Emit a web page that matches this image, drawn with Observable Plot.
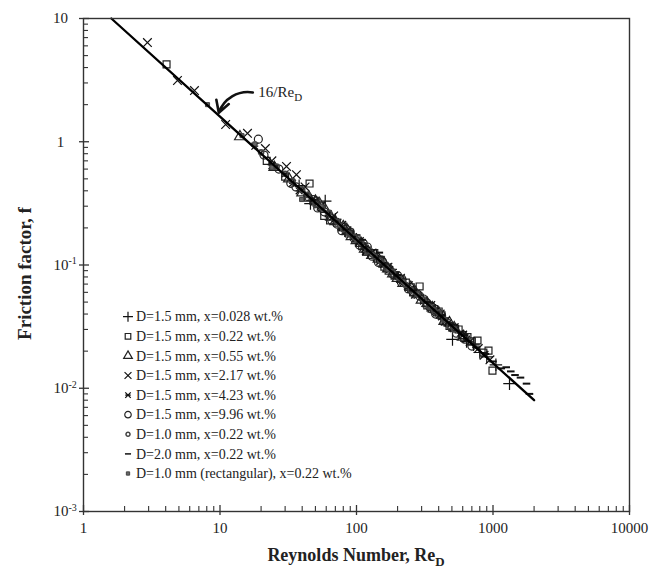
<!DOCTYPE html>
<html><head><meta charset="utf-8">
<script src="https://cdn.jsdelivr.net/npm/d3@7"></script>
<script src="https://cdn.jsdelivr.net/npm/@observablehq/plot@0.6"></script>
<style>
html,body{margin:0;padding:0;background:#fff;}
#chart svg{display:block;}
</style></head><body><div id="chart"></div>
<script>
// ---------- data ----------
const seriesLabels = [
  "D=1.5 mm, x=0.028 wt.%",
  "D=1.5 mm, x=0.22 wt.%",
  "D=1.5 mm, x=0.55 wt.%",
  "D=1.5 mm, x=2.17 wt.%",
  "D=1.5 mm, x=4.23 wt.%",
  "D=1.5 mm, x=9.96 wt.%",
  "D=1.0 mm, x=0.22 wt.%",
  "D=2.0 mm, x=0.22 wt.%",
  "D=1.0 mm (rectangular), x=0.22 wt.%"
];
const re_plus = [38, 46, 52, 59, 70, 82, 95, 108, 122, 140, 158, 178, 200, 228, 260, 295, 335, 380, 425, 505, 560, 640, 720, 800, 900, 1050, 1321];
const f_plus  = [0.44, 0.315, 0.32, 0.33, 0.235, 0.19, 0.175, 0.148, 0.126, 0.118, 0.098, 0.092, 0.078, 0.071, 0.060, 0.055, 0.046, 0.043, 0.037, 0.0249, 0.029, 0.024, 0.0225, 0.0195, 0.018, 0.0155, 0.0109];
const re_square = [4.06, 22, 30, 45.3, 58, 64, 72, 80, 88, 100, 110, 118, 135, 150, 160, 172, 190, 210, 230, 250, 260, 290, 330, 350, 370, 400, 420, 440, 480, 520, 560, 600, 650, 700, 770, 850, 927, 991];
const f_square  = [4.24, 0.70, 0.52, 0.458, 0.25, 0.23, 0.22, 0.205, 0.18, 0.165, 0.142, 0.128, 0.125, 0.11, 0.097, 0.090, 0.082, 0.077, 0.072, 0.066, 0.060, 0.067, 0.047, 0.046, 0.044, 0.042, 0.039, 0.035, 0.032, 0.031, 0.030, 0.027, 0.026, 0.024, 0.0244, 0.0195, 0.0202, 0.0139];
const re_triangle = [14, 25, 32, 40, 45, 50, 54, 58, 65, 70, 80, 86, 92, 100, 108, 115, 122, 130, 145, 160, 170, 185, 200, 220, 250, 270, 300, 330, 360, 400, 440, 480, 520, 600];
const f_triangle  = [1.1, 0.62, 0.50, 0.385, 0.35, 0.33, 0.31, 0.29, 0.245, 0.225, 0.205, 0.19, 0.17, 0.158, 0.15, 0.135, 0.128, 0.12, 0.112, 0.102, 0.093, 0.085, 0.078, 0.071, 0.066, 0.060, 0.052, 0.049, 0.045, 0.041, 0.035, 0.034, 0.031, 0.026];
const re_times = [2.94, 4.88, 6.5, 11, 15.9, 21.5, 24, 30.7, 36.3, 42, 50, 55, 68, 78, 85, 105, 118, 130, 150, 170, 210, 240, 270, 350, 410, 450, 520, 600, 680, 780, 860, 950];
const f_times  = [6.38, 3.14, 2.6, 1.38, 1.17, 0.88, 0.70, 0.63, 0.54, 0.43, 0.33, 0.30, 0.25, 0.21, 0.19, 0.155, 0.13, 0.125, 0.108, 0.096, 0.078, 0.068, 0.058, 0.047, 0.040, 0.035, 0.031, 0.027, 0.024, 0.021, 0.0185, 0.017];
const re_star = [18, 24, 30, 34, 38, 43, 48, 55, 62, 70, 78, 86, 95, 105, 115, 128, 140, 158, 175, 195, 220, 250, 280, 310, 340, 380, 420, 470, 520, 580, 640];
const f_star  = [0.92, 0.64, 0.55, 0.46, 0.40, 0.37, 0.34, 0.29, 0.26, 0.225, 0.20, 0.19, 0.17, 0.155, 0.135, 0.125, 0.115, 0.101, 0.092, 0.083, 0.072, 0.064, 0.057, 0.051, 0.047, 0.042, 0.038, 0.034, 0.031, 0.028, 0.025];
const re_circle = [19.1, 21, 27, 33, 36, 44, 48, 52, 58, 66, 72, 78, 84, 90, 96, 105, 112, 120, 130, 145, 155, 170, 185, 200, 215, 240, 260, 290, 310, 330, 355, 380, 420, 460, 500, 540, 620, 700];
const f_circle  = [1.05, 0.78, 0.60, 0.46, 0.43, 0.36, 0.34, 0.29, 0.27, 0.23, 0.215, 0.19, 0.195, 0.185, 0.165, 0.145, 0.15, 0.14, 0.118, 0.105, 0.107, 0.095, 0.084, 0.082, 0.077, 0.064, 0.060, 0.056, 0.053, 0.049, 0.044, 0.040, 0.039, 0.034, 0.031, 0.028, 0.025, 0.022];
const re_small = [20, 26, 30, 34, 40, 44, 50, 56, 63, 72, 80, 88, 97, 108, 120, 135, 150, 165, 185, 205, 228, 250, 280, 310, 340, 370, 400, 440, 480, 520];
const f_small  = [0.82, 0.63, 0.55, 0.48, 0.41, 0.37, 0.31, 0.29, 0.265, 0.225, 0.195, 0.18, 0.168, 0.152, 0.13, 0.118, 0.108, 0.095, 0.088, 0.079, 0.069, 0.063, 0.058, 0.052, 0.046, 0.043, 0.041, 0.036, 0.032, 0.030];
const re_dash = [110, 147, 200, 260, 330, 420, 500, 620, 750, 880, 1000, 1150, 1250, 1350, 1450, 1590, 1760, 1850];
const f_dash  = [0.16, 0.126, 0.083, 0.062, 0.050, 0.039, 0.033, 0.027, 0.0215, 0.019, 0.0165, 0.0145, 0.0148, 0.0137, 0.0128, 0.0122, 0.0109, 0.0090];
const re_rect = [8.1, 14.5, 18, 24, 39.6, 55, 75, 100, 130, 170, 220, 280, 350];
const f_rect  = [2.0, 1.12, 0.96, 0.62, 0.34, 0.30, 0.21, 0.16, 0.122, 0.092, 0.073, 0.058, 0.046];

// theoretical laminar line 16/Re (end points)
const line_re = [1.6, 2000];
const line_f  = [10, 0.008];

// annotation
const annotLabel = "16/Re_D";
const annotRe = 19.1, annotF = 2.51;
const arrowFrom = {Re: 17.4, f: 2.51};
const arrowTo = {Re: 9.8, f: 1.72};

// ticks
const xTickValues = [1, 10, 100, 1000, 10000];
const xTickLabels = ["1", "10", "100", "1000", "10000"];
const yTickValues = [10, 1, 0.1, 0.01, 0.001];
const yTickLabels = ["10", "1", "10^-1", "10^-2", "10^-3"];
const xTitle = "Reynolds Number, Re_D";
const yTitle = "Friction factor, f";

// ---------- layout ----------
const W = 651, H = 568, mL = 83, mR = 22, mT = 18, mB = 57;
const frameW = W - mL - mR, frameH = H - mT - mB;
const serif = "'Liberation Serif','Times New Roman',Times,serif";

const dashSym = {draw(ctx, size) { const r = Math.sqrt(size / Math.PI) * 1.05; ctx.moveTo(-r, 0); ctx.lineTo(r, 0); }};
const starSym = {draw(ctx, size) { const r = Math.sqrt(size / Math.PI) * 0.85;
  ctx.moveTo(-r, -r); ctx.lineTo(r, r); ctx.moveTo(-r, r); ctx.lineTo(r, -r); ctx.moveTo(-r, 0); ctx.lineTo(r, 0); }};

const rows = (re, f) => re.map((r, i) => ({Re: r, f: f[i]}));
const seriesData = [
  {data: rows(re_plus, f_plus), symbol: d3.symbolPlus, r: 4.1, stroke: "#111", fill: "none", sw: 1.2},
  {data: rows(re_square, f_square), symbol: d3.symbolSquare, r: 3.9, stroke: "#222", fill: "none", sw: 1.2},
  {data: rows(re_triangle, f_triangle), symbol: d3.symbolTriangle, r: 4.0, stroke: "#222", fill: "none", sw: 1.2},
  {data: rows(re_times, f_times), symbol: d3.symbolTimes, r: 4.0, stroke: "#111", fill: "none", sw: 1.2},
  {data: rows(re_star, f_star), symbol: starSym, r: 4.0, stroke: "#111", fill: "none", sw: 1.3},
  {data: rows(re_circle, f_circle), symbol: d3.symbolCircle, r: 4.0, stroke: "#222", fill: "none", sw: 1.2},
  {data: rows(re_small, f_small), symbol: d3.symbolCircle, r: 2.5, stroke: "#444", fill: "none", sw: 1.7},
  {data: rows(re_dash, f_dash), symbol: dashSym, r: 3.6, stroke: "#111", fill: "none", sw: 2},
  {data: rows(re_rect, f_rect), symbol: d3.symbolSquare, r: 2.3, stroke: "#444", fill: "#666", sw: 1}
];

const minorDec = (lo, hi) => { const out = []; for (let e = lo; e < hi; e++) for (let k = 2; k <= 9; k++) out.push(k * Math.pow(10, e)); return out; };
const xMinor = minorDec(0, 4);
const yMinor = minorDec(-3, 1);

const marks = [];
for (const s of seriesData) {
  marks.push(Plot.dot(s.data, {x: "Re", y: "f", symbol: s.symbol, r: s.r, stroke: s.stroke, fill: s.fill, strokeWidth: s.sw}));
}
marks.push(Plot.line(rows(line_re, line_f), {x: "Re", y: "f", stroke: "#000", strokeWidth: 2.3}));
marks.push(Plot.frame({stroke: "#333", strokeWidth: 1.4}));
marks.push(Plot.tickX(xMinor, {x: d => d, insetTop: frameH - 5, stroke: "#333", strokeWidth: 1.1}));
marks.push(Plot.tickX(xTickValues, {x: d => d, insetTop: frameH - 6, insetBottom: -4, stroke: "#333", strokeWidth: 1.3}));
marks.push(Plot.tickY(yMinor, {y: d => d, insetRight: frameW - 5, stroke: "#333", strokeWidth: 1.1}));
marks.push(Plot.tickY(yTickValues, {y: d => d, insetRight: frameW - 6, insetLeft: -4, stroke: "#333", strokeWidth: 1.3}));
marks.push(Plot.text(xTickValues, {x: d => d, frameAnchor: "bottom", dy: 17, text: (d, i) => xTickLabels[i], textAnchor: "middle", lineAnchor: "middle", fontSize: 15, fill: "#222"}));
const yIdxPlain = yTickValues.map((d, i) => i).filter(i => !yTickLabels[i].includes("^"));
const yIdxExp = yTickValues.map((d, i) => i).filter(i => yTickLabels[i].includes("^"));
marks.push(Plot.text(yIdxPlain, {y: i => yTickValues[i], frameAnchor: "left", dx: -23, text: i => yTickLabels[i], textAnchor: "middle", lineAnchor: "middle", fontSize: 15, fill: "#222"}));
marks.push(Plot.text(yIdxExp, {y: i => yTickValues[i], frameAnchor: "left", dx: -30, text: i => yTickLabels[i], textAnchor: "start", lineAnchor: "middle", fontSize: 15, fill: "#222"}));
marks.push(Plot.arrow([{a: arrowFrom, b: arrowTo}], {x1: d => d.a.Re, y1: d => d.a.f, x2: d => d.b.Re, y2: d => d.b.f, bend: -40, stroke: "#111", strokeWidth: 2.6, headLength: 9}));
marks.push(Plot.text([{Re: annotRe, f: annotF, label: annotLabel}], {x: "Re", y: "f", text: "label", textAnchor: "start", lineAnchor: "middle", fontSize: 15, fill: "#222"}));

const chart = Plot.plot({
  width: W, height: H, marginLeft: mL, marginRight: mR, marginTop: mT, marginBottom: mB,
  style: {fontFamily: serif, fontSize: "15px", background: "#fff", color: "#222", overflow: "visible"},
  x: {type: "log", domain: [1, 10000], axis: null},
  y: {type: "log", domain: [0.001, 10], axis: null},
  marks
});
document.getElementById("chart").appendChild(chart);

// ---------- post-processing: super/subscripts, titles, legend ----------
const NS = "http://www.w3.org/2000/svg";
function richify(el, smallSize) {
  const t = el.textContent;
  const m = t.match(/^(.*?)([\^_])(.+)$/);
  if (!m) return;
  el.textContent = m[1];
  const ts = document.createElementNS(NS, "tspan");
  ts.setAttribute("font-size", smallSize);
  ts.setAttribute("dy", m[2] === "^" ? "-0.55em" : "0.35em");
  ts.textContent = m[3];
  el.appendChild(ts);
}
const svg = d3.select(chart);
svg.selectAll("text").each(function() { richify(this, this.textContent.includes("^") ? "10px" : "11px"); });

const xt = svg.append("text").attr("x", mL + frameW / 2).attr("y", 561).attr("text-anchor", "middle")
  .attr("font-family", serif).attr("font-weight", "bold").attr("font-size", 18).attr("fill", "#222").text(xTitle);
richify(xt.node(), "13px");
svg.append("text").attr("transform", `translate(31,${mT + frameH / 2 + 9}) rotate(-90)`).attr("text-anchor", "middle")
  .attr("font-family", serif).attr("font-weight", "bold").attr("font-size", 19).attr("fill", "#222").text(yTitle);

const lg = svg.append("g").attr("transform", "translate(128,316.7)");
seriesData.forEach((s, i) => {
  const g = lg.append("g").attr("transform", `translate(0,${i * 19.6})`);
  g.append("path").attr("d", d3.symbol(s.symbol, Math.PI * s.r * s.r * 0.65)())
    .attr("fill", s.fill).attr("stroke", s.stroke).attr("stroke-width", Math.min(s.sw, 1.5));
  g.append("text").attr("x", 8).attr("dy", "0.34em").attr("text-anchor", "start").attr("font-family", serif).attr("font-size", 14)
    .attr("fill", "#222").text(seriesLabels[i]);
});
</script></body></html>
